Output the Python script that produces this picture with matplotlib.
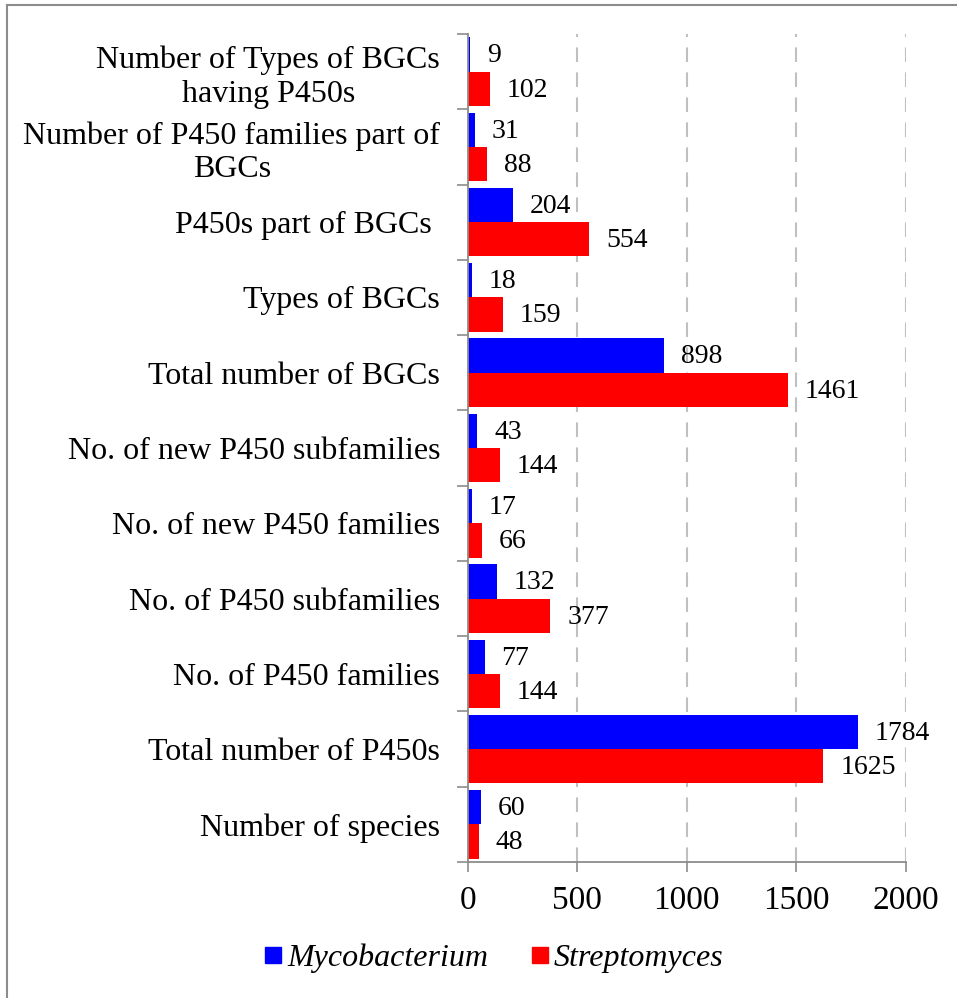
import matplotlib.pyplot as plt
from matplotlib.lines import Line2D
import numpy as np

plt.rcParams["font.family"] = ["Liberation Serif", "DejaVu Serif"]

# data, bottom to top as drawn
categories = [
    "Number of species",
    "Total number of P450s",
    "No. of P450 families",
    "No. of P450 subfamilies",
    "No. of new P450 families",
    "No. of new P450 subfamilies",
    "Total number of BGCs",
    "Types of BGCs",
    "P450s part of BGCs ",
    "Number of P450 families part of\nBGCs",
    "Number of Types of BGCs\nhaving P450s",
]
mycobacterium = [60, 1784, 77, 132, 17, 43, 898, 18, 204, 31, 9]
streptomyces = [48, 1625, 144, 377, 66, 144, 1461, 159, 554, 88, 102]
x_ticks = [0, 500, 1000, 1500, 2000]

BLUE = "#0000ff"
RED = "#ff0000"
GREY = "#8c8c8c"


def main() -> None:
    fig = plt.figure(figsize=(9.57, 9.98), dpi=100)
    ax = fig.add_axes([468 / 957, 1 - 862 / 998, (905.5 - 468) / 957, (862 - 34) / 998])

    y = np.arange(len(categories))
    h = 0.455
    ax.barh(y + h / 2, mycobacterium, height=h, color=BLUE, label="Mycobacterium")
    ax.barh(y - h / 2, streptomyces, height=h, color=RED, label="Streptomyces")

    # value labels, ~17 px right of the bar end
    for yi, v in zip(y, mycobacterium):
        ax.annotate(str(v), (v, yi + h / 2), xytext=(12, -1), textcoords="offset points",
                    va="center", ha="left", fontsize=20)
    for yi, v in zip(y, streptomyces):
        ax.annotate(str(v), (v, yi - h / 2), xytext=(12, -1), textcoords="offset points",
                    va="center", ha="left", fontsize=20)

    ax.set_xlim(0, 2000)
    ax.set_ylim(-0.5, len(categories) - 0.5)
    ax.set_xticks(x_ticks)
    ax.set_xticklabels([str(t) for t in x_ticks], fontsize=24)
    ax.tick_params(axis="x", length=7, color=GREY, width=1.2, pad=10)

    # category labels centred, ticks on the boundaries
    ax.set_yticks(np.arange(len(categories) + 1) - 0.5)
    ax.set_yticklabels([])
    ax.tick_params(axis="y", length=8, color=GREY, width=1.2)
    ax.set_yticks(y, minor=True)
    ax.set_yticklabels(categories, minor=True, fontsize=23, ha="right",
                       multialignment="center", linespacing=1.22)
    ax.tick_params(axis="y", which="minor", length=0, pad=20)

    for t in x_ticks[1:]:
        ax.axvline(t, color="#c0c0c0", linestyle=(0, (7, 5)), linewidth=1.5, zorder=0)

    for side in ["top", "right"]:
        ax.spines[side].set_visible(False)
    for side in ["left", "bottom"]:
        ax.spines[side].set_color(GREY)
        ax.spines[side].set_linewidth(1.3)

    handles = [
        Line2D([], [], marker="s", linestyle="none", markersize=12, color=BLUE),
        Line2D([], [], marker="s", linestyle="none", markersize=12, color=RED),
    ]
    fig.legend(handles, ["Mycobacterium", "Streptomyces"], loc="center",
               bbox_to_anchor=(492 / 957, 1 - 958 / 998), ncol=2, frameon=False,
               prop={"style": "italic", "size": 23}, handletextpad=0.05,
               columnspacing=1.2, handlelength=0.8)

    # outer frame (top and left edges visible)
    fig.add_artist(Line2D([7 / 957, 7 / 957], [0, 1 - 5 / 998], color=GREY,
                          linewidth=1.5, transform=fig.transFigure))
    fig.add_artist(Line2D([7 / 957, 1], [1 - 5 / 998, 1 - 5 / 998], color=GREY,
                          linewidth=1.5, transform=fig.transFigure))

    fig.savefig("out.png", dpi=100)
    plt.close(fig)


if __name__ == "__main__":
    main()
